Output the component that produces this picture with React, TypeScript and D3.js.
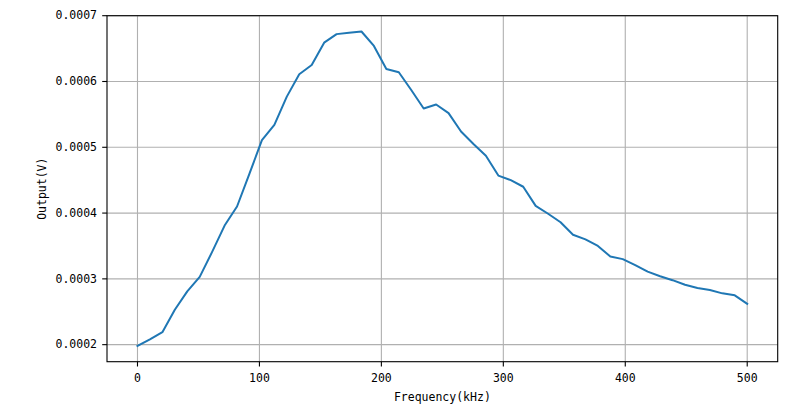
import React from "react";
import * as d3 from "d3";

const frequency: number[] = [
  0, 10.2, 20.41, 30.61, 40.82, 51.02, 61.22, 71.43, 81.63, 91.84,
  102.04, 112.24, 122.45, 132.65, 142.86, 153.06, 163.27, 173.47, 183.67, 193.88,
  204.08, 214.29, 224.49, 234.69, 244.9, 255.1, 265.31, 275.51, 285.71, 295.92,
  306.12, 316.33, 326.53, 336.73, 346.94, 357.14, 367.35, 377.55, 387.76, 397.96,
  408.16, 418.37, 428.57, 438.78, 448.98, 459.18, 469.39, 479.59, 489.8, 500,
];

const output: number[] = [
  0.000198, 0.000208, 0.000219, 0.000253, 0.000281, 0.000303, 0.000341, 0.000381, 0.00041, 0.00046,
  0.000511, 0.000534, 0.000577, 0.000611, 0.000625, 0.000659, 0.000672, 0.000674, 0.000676, 0.000654,
  0.000619, 0.000614, 0.000587, 0.000559, 0.000565, 0.000552, 0.000524, 0.000505, 0.000487, 0.000457,
  0.00045, 0.00044, 0.000411, 0.000399, 0.000386, 0.000367, 0.00036, 0.00035, 0.000334, 0.00033,
  0.000321, 0.000311, 0.000304, 0.000298, 0.000291, 0.000286, 0.000283, 0.000278, 0.000275, 0.000262,
];

const xTicks: number[] = [0, 100, 200, 300, 400, 500];
const yTicks: number[] = [0.0002, 0.0003, 0.0004, 0.0005, 0.0006, 0.0007];

const xLabel = "Frequency(kHz)";
const yLabel = "Output(V)";

export default function App() {
  const left = 107;
  const right = 777.7;
  const top = 15.7;
  const bottom = 361.7;

  const x = d3.scaleLinear().domain([-25, 525]).range([left, right]);
  const y = d3.scaleLinear().domain([0.0001741, 0.0007]).range([bottom, top]);

  const line = d3
    .line<number>()
    .x((_, i) => x(frequency[i]))
    .y((d) => y(d));

  const font = "'DejaVu Sans Mono', 'Liberation Mono', monospace";

  return (
    <svg
      width={800}
      height={409}
      style={{ position: "absolute", left: 0, top: 0, background: "#fff" }}
    >
      <rect x={0} y={0} width={800} height={409} fill="#fff" />
      {xTicks.map((t) => (
        <line key={"gx" + t} x1={x(t)} x2={x(t)} y1={top} y2={bottom} stroke="#b0b0b0" strokeWidth={1.1} />
      ))}
      {yTicks.map((t) => (
        <line key={"gy" + t} x1={left} x2={right} y1={y(t)} y2={y(t)} stroke="#b0b0b0" strokeWidth={1.1} />
      ))}
      <path d={line(output) || ""} fill="none" stroke="#1f77b4" strokeWidth={2} strokeLinejoin="round" strokeLinecap="square" />
      <rect x={left} y={top} width={right - left} height={bottom - top} fill="none" stroke="#000" strokeWidth={1.1} />
      {xTicks.map((t) => (
        <g key={"tx" + t}>
          <line x1={x(t)} x2={x(t)} y1={bottom} y2={bottom + 4.8} stroke="#000" strokeWidth={1.1} />
          <text x={x(t)} y={381.7} textAnchor="middle" fontFamily={font} fontSize={11.5} fill="#000">
            {String(t)}
          </text>
        </g>
      ))}
      {yTicks.map((t) => (
        <g key={"ty" + t}>
          <line x1={left - 4.8} x2={left} y1={y(t)} y2={y(t)} stroke="#000" strokeWidth={1.1} />
          <text x={97} y={y(t)} dy="0.32em" textAnchor="end" fontFamily={font} fontSize={11.5} fill="#000">
            {t.toFixed(4)}
          </text>
        </g>
      ))}
      <text x={(left + right) / 2} y={400.5} textAnchor="middle" fontFamily={font} fontSize={11.5} fill="#000">
        {xLabel}
      </text>
      <text
        transform={`translate(45.7, ${(top + bottom) / 2}) rotate(-90)`}
        textAnchor="middle"
        fontFamily={font}
        fontSize={11.5}
        fill="#000"
      >
        {yLabel}
      </text>
    </svg>
  );
}
